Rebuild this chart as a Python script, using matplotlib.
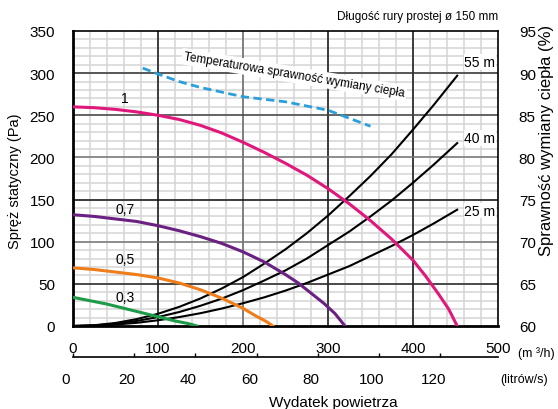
"""Fan curves chart: static pressure vs air flow with heat recovery efficiency."""
import matplotlib
matplotlib.use("Agg")
import matplotlib.pyplot as plt
import matplotlib.transforms as mtransforms

plt.rcParams["font.family"] = ["Liberation Sans", "DejaVu Sans"]

# fan curves (m3/h, Pa)
q_1 = [0, 25, 50, 75, 100, 125, 150, 175, 200, 225, 250, 275, 300, 325, 350,
       375, 400, 415, 430, 442, 452]
p_1 = [260, 259, 257, 254, 250, 245, 238, 229, 218, 206, 193, 179, 163, 145,
       125, 103, 78, 59, 38, 20, 0]
q_07 = [0, 25, 50, 75, 100, 125, 150, 175, 200, 225, 250, 265, 280, 295, 308, 320]
p_07 = [132, 130, 127, 124, 119, 113, 106, 98, 88, 76, 61, 51, 39, 27, 15, 0]
q_05 = [0, 25, 50, 75, 100, 125, 150, 175, 200, 215, 228, 235]
p_05 = [69, 67, 64, 61, 57, 51, 43, 33, 21, 12, 5, 0]
q_03 = [0, 20, 40, 60, 80, 100, 120, 135, 146]
p_03 = [34, 30, 26, 21, 16, 11, 6, 3, 0]

# duct system curves (m3/h, Pa)
q_sys = [0, 25, 50, 75, 100, 125, 150, 175, 200, 225, 250, 275, 300, 325, 350,
         375, 400, 425, 452]
p_55m = [0, 0.9, 3.6, 8.2, 14.5, 22.7, 32.7, 44.5, 58, 74, 91, 110, 131, 154,
         178, 204, 233, 263, 297]
p_40m = [0, 0.7, 2.7, 6.0, 10.6, 16.6, 24, 32.5, 42.5, 54, 66, 80, 96, 112,
         130, 149, 170, 192, 217]
p_25m = [0, 0.4, 1.7, 3.8, 6.8, 10.6, 15.2, 20.7, 27, 34, 42, 51, 61, 71,
         83, 95, 108, 122, 138]

# heat recovery efficiency (m3/h, %)
q_eff = [82, 100, 125, 150, 200, 250, 300, 350]
eff = [90.6, 89.9, 89.0, 88.3, 87.2, 86.6, 85.6, 83.7]

fan_labels = ["1", "0,7", "0,5", "0,3"]
sys_labels = ["55 m", "40 m", "25 m"]
ls_ticks = [0, 20, 40, 60, 80, 100, 120]

W, H = 558, 410
fig = plt.figure(figsize=(W / 100, H / 100), dpi=100)
ax = fig.add_axes([73 / W, 1 - 327 / H, 425 / W, 295 / H])

ax.set_xlim(0, 500)
ax.set_ylim(0, 350)

# grid
for x in range(20, 500, 20):
    ax.axvline(x, color="#d4d4d4", lw=1.1, zorder=0)
for y in range(10, 350, 10):
    ax.axhline(y, color="#d4d4d4", lw=1.1, zorder=0)
for x, c in [(100, "#111111"), (200, "#666666"), (300, "#111111"), (400, "#111111")]:
    ax.axvline(x, color=c, lw=1.1, zorder=1)
for y, c in [(50, "#222222"), (100, "#777777"), (150, "#111111"),
             (200, "#777777"), (250, "#444444"), (300, "#333333")]:
    ax.axhline(y, color=c, lw=1.1, zorder=1)

# curves
ax.plot(q_sys, p_55m, color="black", lw=1.5, zorder=3)
ax.plot(q_sys, p_40m, color="black", lw=1.5, zorder=3)
ax.plot(q_sys, p_25m, color="black", lw=1.5, zorder=3)
ax.plot(q_1, p_1, color="#e0187c", lw=2.2, zorder=4)
ax.plot(q_07, p_07, color="#6b2182", lw=2.2, zorder=4)
ax.plot(q_05, p_05, color="#ef7d1a", lw=2.2, zorder=4)
ax.plot(q_03, p_03, color="#1e9b48", lw=2.2, zorder=4)

for lab, y in zip(fan_labels, [270, 139, 80, 35]):
    ax.text(61, y, lab, ha="center", va="center", fontsize=10, zorder=5)

for lab, y in zip(sys_labels, [313, 223, 137]):
    ax.text(497, y, lab, ha="right", va="center", fontsize=10, zorder=5,
            bbox=dict(facecolor="white", edgecolor="none", pad=0.5))

for s in ["left", "bottom"]:
    ax.spines[s].set_linewidth(2.0)
for s in ["top", "right"]:
    ax.spines[s].set_linewidth(1.2)

ax.set_yticks(range(0, 351, 50))
ax.set_xticks(range(0, 501, 100))
ax.tick_params(axis="both", length=0, labelsize=11)
ax.tick_params(axis="y", pad=13)
ax.tick_params(axis="x", pad=10.5)

# efficiency on the right axis
ax2 = ax.twinx()
ax2.set_ylim(60, 95)
ax2.plot(q_eff, eff, color="#2a9fdc", lw=2.0, ls=(0, (3, 1.6)), zorder=4)
ax2.set_yticks(range(60, 96, 5))
ax2.tick_params(axis="y", length=0, labelsize=11, pad=15)
for s in ax2.spines.values():
    s.set_visible(False)

ax.text(260, 298, "Temperaturowa sprawność wymiany ciepła", rotation=-9.5,
        ha="center", va="center", fontsize=8.5, zorder=5,
        rotation_mode="anchor",
        bbox=dict(facecolor="white", edgecolor="none", pad=1.5))

# second flow axis in litres per second
sec = ax.secondary_xaxis(-31 / 295, functions=(lambda x: x / 3.6, lambda x: x * 3.6))
sec.set_xticks(ls_ticks)
sec.tick_params(axis="x", direction="in", length=3, width=1, labelsize=11, pad=11)
sec.spines["bottom"].set_linewidth(1.2)
shift = mtransforms.ScaledTranslation(-7 / 100, 0, fig.dpi_scale_trans)
for lab in sec.get_xticklabels():
    lab.set_transform(lab.get_transform() + shift)

fig.text(498 / W, 1 - 17 / H, "Długość rury prostej ø 150 mm",
         ha="right", va="center", fontsize=8.5)
fig.text(518 / W, 1 - 354 / H, "(m ³/h)", ha="left", va="center", fontsize=9)
fig.text(500 / W, 1 - 380 / H, "(litrów/s)", ha="left", va="center", fontsize=9)
fig.text(333 / W, 1 - 403 / H, "Wydatek powietrza", ha="center", va="center",
         fontsize=11)
fig.text(15 / W, 1 - 181 / H, "Spręż statyczny (Pa)", rotation=90,
         ha="center", va="center", fontsize=10.5)
fig.text(547 / W, 1 - 140 / H, "Sprawność wymiany ciepła (%)", rotation=90,
         ha="center", va="center", fontsize=12)

fig.savefig("out.png", dpi=100, facecolor="white")
